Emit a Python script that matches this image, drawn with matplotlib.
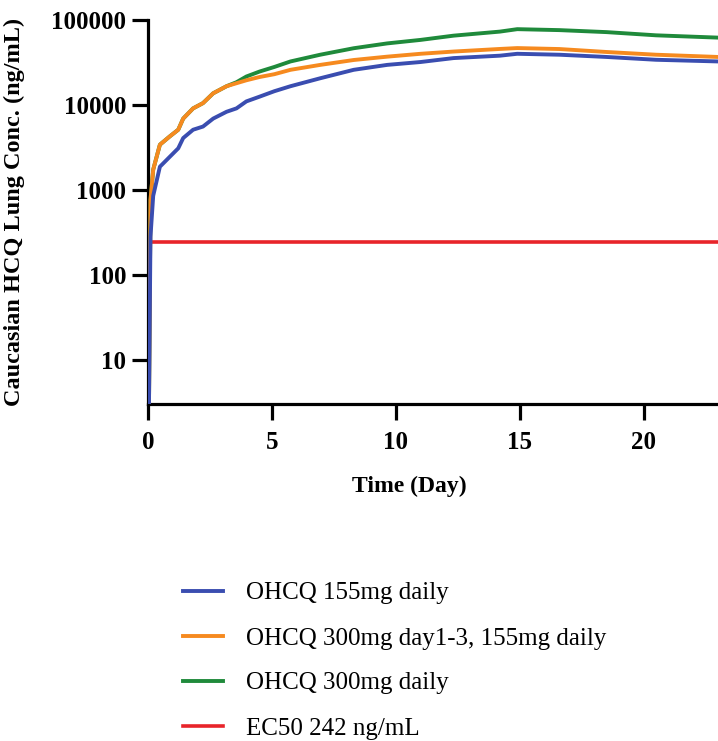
import numpy as np
import matplotlib
matplotlib.use("Agg")
import matplotlib.pyplot as plt

# time points (day)
t = [0, 0.04, 0.1, 0.21, 0.48, 0.88, 1.22, 1.42, 1.82, 2.22, 2.63, 3.17, 3.57, 3.97, 4.5, 5.1,
     5.75, 6.95, 8.3, 9.65, 11.0, 12.33, 14.2, 14.9, 16.6, 18.5, 20.5, 23]

conc_155 = [1, 3, 280, 850, 1870, 2450, 3080, 4070, 5100, 5560, 6900, 8300, 9100, 11000, 12500, 14500,
            16600, 20600, 25900, 29600, 32000, 35600, 38000, 40000, 39000, 36700, 34000, 32500]

conc_300_155 = [1, 3, 760, 1730, 3400, 4260, 5100, 6900, 9100, 10500, 13700, 16600, 18000, 19500, 21300, 23000,
                25900, 29600, 33800, 37000, 40000, 42500, 45600, 46700, 45500, 42000, 39000, 36700]

conc_300 = [1, 3, 760, 1730, 3400, 4260, 5100, 6900, 9100, 10500, 13700, 16600, 18500, 21600, 24700, 28000,
            32500, 39000, 46500, 53000, 58300, 65400, 73000, 78000, 76000, 72000, 66000, 62000]

ec50 = 242

labels = ["OHCQ 155mg daily", "OHCQ 300mg day1-3, 155mg daily", "OHCQ 300mg daily", "EC50 242 ng/mL"]
colors = ["#3a4db0", "#f68a1f", "#1f8a3b", "#e8242a"]

plt.rcParams["font.family"] = ["Liberation Serif", "DejaVu Serif"]

fig = plt.figure(figsize=(7.18, 7.41), dpi=100)
ax = fig.add_axes([148 / 718, 1 - 404 / 741, 1 - 148 / 718, (404 - 20) / 741])

ax.plot(t, conc_300, color=colors[2], lw=2.8, label=labels[2], zorder=3)
ax.plot(t, conc_300_155, color=colors[1], lw=2.8, label=labels[1], zorder=4)
ax.plot(t, conc_155, color=colors[0], lw=2.8, label=labels[0], zorder=5)
ax.plot([0, 23], [ec50, ec50], color=colors[3], lw=2.6, label=labels[3], zorder=2)

ax.set_yscale("log")
ax.set_ylim(3, 100000)
ax.set_xlim(0, 23)
ax.set_yticks([10, 100, 1000, 10000, 100000])
ax.set_yticklabels(["10", "100", "1000", "10000", "100000"])
ax.minorticks_off()
ax.set_xticks([0, 5, 10, 15, 20])

for s in ["top", "right"]:
    ax.spines[s].set_visible(False)
for s in ["left", "bottom"]:
    ax.spines[s].set_linewidth(2.3)

ax.tick_params(axis="both", width=2.3, length=11.5, labelsize=18)
ax.tick_params(axis="x", pad=8)
ax.tick_params(axis="y", pad=4)
for lab in ax.get_xticklabels() + ax.get_yticklabels():
    lab.set_fontweight("bold")

ax.set_xlabel("Time (Day)", fontsize=17, fontweight="bold")
ax.xaxis.set_label_coords((409 - 148) / 570, -(476 - 404) / 384)
ax.set_ylabel("Caucasian HCQ Lung Conc. (ng/mL)", fontsize=17.5, fontweight="bold")
ax.yaxis.set_label_coords(-(148 - 25) / 570, 0.5)

h, l = ax.get_legend_handles_labels()
order = [2, 1, 0, 3]
fig.legend([h[i] for i in order], [l[i] for i in order],
           loc="upper left", bbox_to_anchor=(183 / 718, 1 - 582 / 741),
           frameon=False, fontsize=18, handlelength=1.6, handletextpad=0.9,
           labelspacing=0.9, borderpad=0, borderaxespad=0)

fig.savefig("out.png", dpi=100)
